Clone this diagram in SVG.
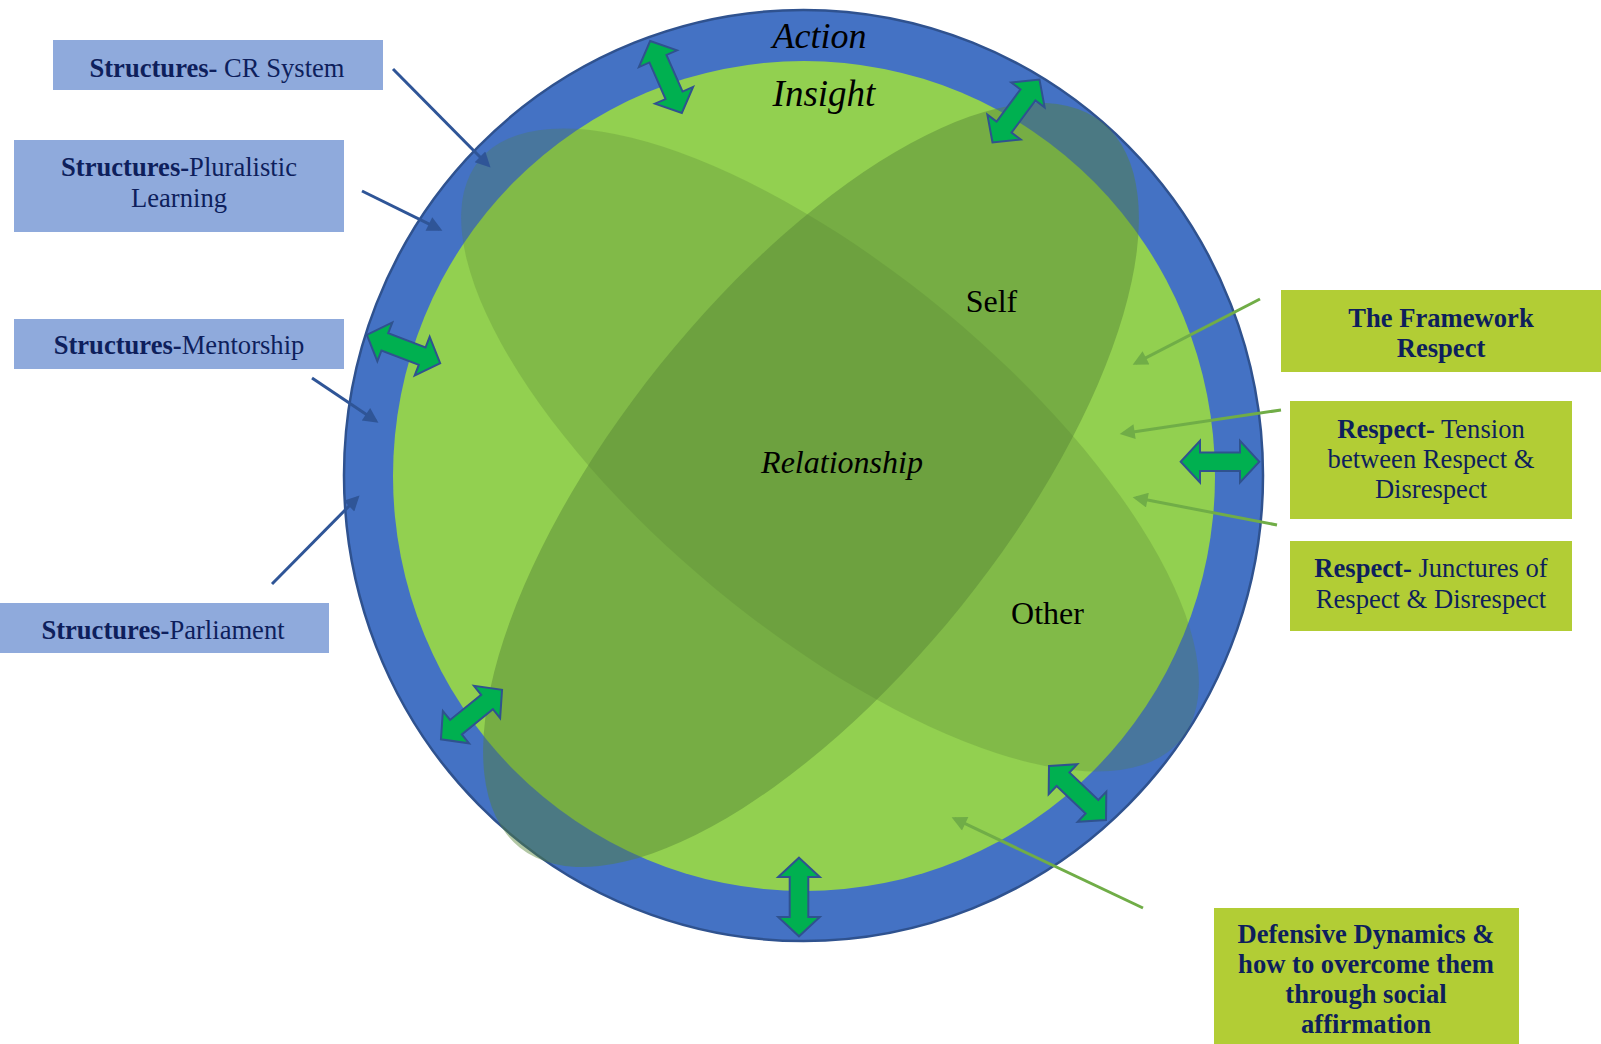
<svg xmlns="http://www.w3.org/2000/svg" xmlns:xlink="http://www.w3.org/1999/xlink" width="1601" height="1044" viewBox="0 0 1601 1044">
  <defs>
    <style>
      .lbl { font-family: "Liberation Serif", "Times New Roman", serif; font-size: 26.6px; fill: #0E1F5C; text-anchor: middle; }
      .b { font-weight: bold; }
      .ring-txt { font-family: "Liberation Serif", "Times New Roman", serif; fill: #000000; text-anchor: middle; }
      .it { font-style: italic; }
      .box-blue { fill: #8FAADC; }
      .box-lime { fill: #B2CD35; }
      .lobe { fill: #548235; }
      .dbl { fill: #00B050; stroke: #2F528F; stroke-width: 2; stroke-linejoin: miter; }
      .conn-blue { fill: none; stroke: #2F5597; stroke-width: 3; marker-end: url(#ah-blue); }
      .conn-green { fill: none; stroke: #70AD47; stroke-width: 3; marker-end: url(#ah-green); }
    </style>
    <marker id="ah-blue" viewBox="0 0 10 10" refX="7.8" refY="5" markerWidth="6" markerHeight="5" orient="auto" markerUnits="strokeWidth">
      <path d="M0,0 L10,5 L0,10 Z" fill="#2F5597"/>
    </marker>
    <marker id="ah-green" viewBox="0 0 10 10" refX="7.8" refY="5" markerWidth="6" markerHeight="5" orient="auto" markerUnits="strokeWidth">
      <path d="M0,0 L10,5 L0,10 Z" fill="#70AD47"/>
    </marker>
    <!-- two-headed block arrow, centred on the origin, pointing along x -->
    <path id="dblarrow" d="M -39.3,0 L -20,-20.8 L -20,-9.3 L 20,-9.3 L 20,-20.8 L 39.3,0 L 20,20.8 L 20,9.3 L -20,9.3 L -20,20.8 Z"/>
  </defs>

  <rect x="0" y="0" width="1601" height="1044" fill="#FFFFFF"/>

  <!-- outer Action ring and inner Insight disc -->
  <g id="ring">
    <ellipse cx="803.5" cy="475.5" rx="459.5" ry="465.5" fill="#4472C4" stroke="#2F528F" stroke-width="2.5"/>
    <ellipse cx="804" cy="476" rx="411" ry="415" fill="#92D050"/>
  </g>

  <!-- overlapping Self / Other lobes -->
  <g id="lobes">
    <ellipse class="lobe" cx="830" cy="450" rx="455" ry="180" transform="rotate(39.6 830 450)" fill-opacity="0.27"/>
    <ellipse class="lobe" cx="811" cy="485" rx="465" ry="193" transform="rotate(-51.2 811 485)" fill-opacity="0.45"/>
  </g>

  <!-- two-way exchange arrows across the ring -->
  <g id="exchange-arrows">
    <use xlink:href="#dblarrow" class="dbl" transform="translate(666 77) rotate(66.2)"/>
    <use xlink:href="#dblarrow" class="dbl" transform="translate(1016 111) rotate(-53.3)"/>
    <use xlink:href="#dblarrow" class="dbl" transform="translate(403.5 349) rotate(21.1)"/>
    <use xlink:href="#dblarrow" class="dbl" transform="translate(1220 461.7)"/>
    <use xlink:href="#dblarrow" class="dbl" transform="translate(471.5 714.6) rotate(-39)"/>
    <use xlink:href="#dblarrow" class="dbl" transform="translate(1077.5 793) rotate(43.5)"/>
    <use xlink:href="#dblarrow" class="dbl" transform="translate(799 897) rotate(90)"/>
  </g>

  <!-- labels inside the circle -->
  <g id="circle-labels">
    <text id="action" class="ring-txt it" x="819.4" y="48.3" font-size="36">Action</text>
    <text id="insight" class="ring-txt it" x="824" y="106" font-size="37">Insight</text>
    <text id="self" class="ring-txt" x="991.5" y="312" font-size="32">Self</text>
    <text id="relationship" class="ring-txt it" x="842" y="473" font-size="32">Relationship</text>
    <text id="other" class="ring-txt" x="1047.5" y="624" font-size="32">Other</text>
  </g>

  <!-- connectors from the boxes to the circle -->
  <g id="connectors">
    <path class="conn-blue" d="M393,69 L488.2,165.2"/>
    <path class="conn-blue" d="M362,191 L439.4,229.2"/>
    <path class="conn-blue" d="M312,378 L375.7,420.8"/>
    <path class="conn-blue" d="M272,584 L357.2,497.8"/>
    <path class="conn-green" d="M1260,299 L1135.6,363.2"/>
    <path class="conn-green" d="M1281,410 L1123,433.4"/>
    <path class="conn-green" d="M1277,525 L1135.9,497.8"/>
    <path class="conn-green" d="M1143,908 L954.6,818.7"/>
  </g>

  <!-- Structures boxes -->
  <g id="structures-cr-system">
    <rect class="box-blue" x="53" y="40" width="330" height="50"/>
    <text class="lbl" x="217" y="77"><tspan class="b">Structures-</tspan> CR System</text>
  </g>
  <g id="structures-pluralistic">
    <rect class="box-blue" x="14" y="140" width="330" height="92"/>
    <text class="lbl" x="179" y="176"><tspan class="b">Structures-</tspan>Pluralistic</text>
    <text class="lbl" x="179" y="207">Learning</text>
  </g>
  <g id="structures-mentorship">
    <rect class="box-blue" x="14" y="319" width="330" height="50"/>
    <text class="lbl" x="179" y="354"><tspan class="b">Structures-</tspan>Mentorship</text>
  </g>
  <g id="structures-parliament">
    <rect class="box-blue" x="0" y="603" width="329" height="50"/>
    <text class="lbl" x="163" y="639"><tspan class="b">Structures-</tspan>Parliament</text>
  </g>

  <!-- Respect boxes -->
  <g id="framework-respect">
    <rect class="box-lime" x="1281" y="290" width="320" height="82"/>
    <text class="lbl b" x="1441" y="327">The Framework</text>
    <text class="lbl b" x="1441" y="357">Respect</text>
  </g>
  <g id="respect-tension">
    <rect class="box-lime" x="1290" y="401" width="282" height="118"/>
    <text class="lbl" x="1431" y="438"><tspan class="b">Respect-</tspan> Tension</text>
    <text class="lbl" x="1431" y="468">between Respect &amp;</text>
    <text class="lbl" x="1431" y="498">Disrespect</text>
  </g>
  <g id="respect-junctures">
    <rect class="box-lime" x="1290" y="541" width="282" height="90"/>
    <text class="lbl" x="1431" y="577"><tspan class="b">Respect-</tspan> Junctures of</text>
    <text class="lbl" x="1431" y="608">Respect &amp; Disrespect</text>
  </g>
  <g id="defensive-dynamics">
    <rect class="box-lime" x="1214" y="908" width="305" height="136"/>
    <text class="lbl b" x="1366" y="943">Defensive Dynamics &amp;</text>
    <text class="lbl b" x="1366" y="973">how to overcome them</text>
    <text class="lbl b" x="1366" y="1003">through social</text>
    <text class="lbl b" x="1366" y="1033">affirmation</text>
  </g>
</svg>
